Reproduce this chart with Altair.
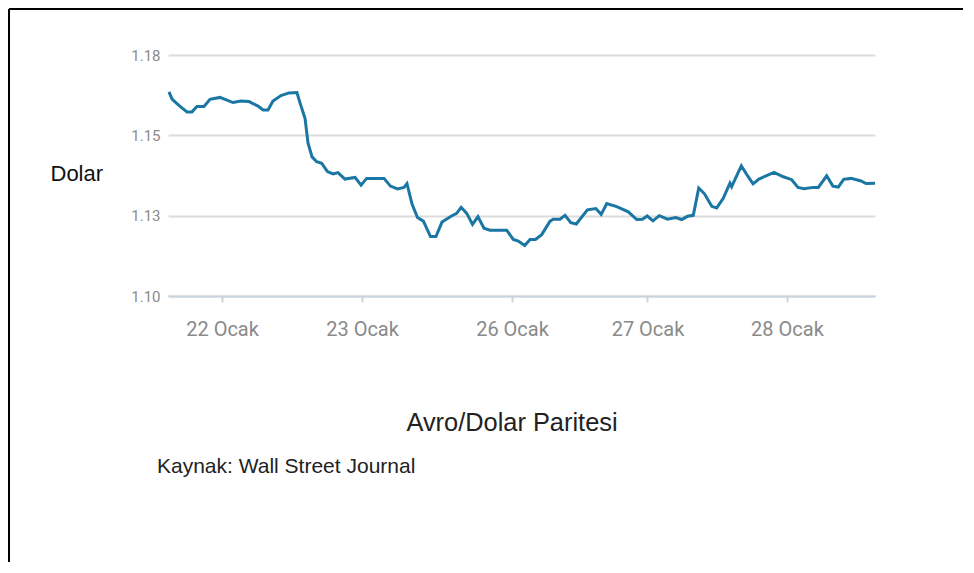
import altair as alt
import pandas as pd

# ---- data ----
# x position in trading-day units, 0 = left edge of the plot
day_pos = [0.007, 0.029, 0.05, 0.086, 0.136, 0.171, 0.207, 0.257, 0.3, 0.371,
           0.464, 0.521, 0.579, 0.643, 0.679, 0.714, 0.75, 0.807, 0.864, 0.921,
           0.943, 0.979, 1.0, 1.029, 1.062, 1.098, 1.139, 1.179, 1.214, 1.264,
           1.336, 1.379, 1.419, 1.543, 1.589, 1.639, 1.686, 1.707, 1.743, 1.782,
           1.824, 1.875, 1.914, 1.957, 2.025, 2.062, 2.094, 2.134, 2.175, 2.214,
           2.257, 2.3, 2.419, 2.466, 2.502, 2.548, 2.586, 2.625, 2.669, 2.729,
           2.752, 2.8, 2.836, 2.877, 2.916, 2.996, 3.056, 3.094, 3.134, 3.205,
           3.288, 3.348, 3.389, 3.423, 3.464, 3.509, 3.568, 3.627, 3.669, 3.711,
           3.752, 3.791, 3.832, 3.884, 3.919, 3.966, 4.014, 4.026, 4.095, 4.143,
           4.179, 4.221, 4.329, 4.395, 4.455, 4.5, 4.543, 4.609, 4.645, 4.705,
           4.749, 4.788, 4.826, 4.879, 4.95, 4.986, 5.05]
eur_usd = [1.1635, 1.1613, 1.1604, 1.1590, 1.1573, 1.1573, 1.1590, 1.1590, 1.1612, 1.1618,
           1.1602, 1.1607, 1.1605, 1.1591, 1.1579, 1.1579, 1.1607, 1.1624, 1.1632, 1.1633,
           1.1601, 1.1552, 1.1476, 1.1433, 1.1418, 1.1413, 1.1387, 1.1380, 1.1384, 1.1364,
           1.1369, 1.1345, 1.1366, 1.1366, 1.1342, 1.1333, 1.1338, 1.1350, 1.1286, 1.1244,
           1.1233, 1.1185, 1.1185, 1.1230, 1.1249, 1.1257, 1.1276, 1.1257, 1.1223, 1.1247,
           1.1211, 1.1205, 1.1205, 1.1176, 1.1171, 1.1157, 1.1176, 1.1176, 1.1191, 1.1233,
           1.1239, 1.1239, 1.1251, 1.1228, 1.1224, 1.1268, 1.1272, 1.1254, 1.1288, 1.1278,
           1.1262, 1.1238, 1.1239, 1.1249, 1.1234, 1.1250, 1.1239, 1.1244, 1.1238, 1.1248,
           1.1251, 1.1336, 1.1318, 1.1279, 1.1274, 1.1304, 1.1351, 1.1340, 1.1405, 1.1372,
           1.1349, 1.1364, 1.1385, 1.1371, 1.1362, 1.1338, 1.1334, 1.1338, 1.1338, 1.1374,
           1.1342, 1.1339, 1.1363, 1.1366, 1.1358, 1.1350, 1.1351]

x_tick_values = [0.386, 1.386, 2.457, 3.425, 4.421]
x_tick_labels = ["22 Ocak", "23 Ocak", "26 Ocak", "27 Ocak", "28 Ocak"]
y_tick_values = [1.10, 1.125, 1.15, 1.175]
y_tick_labels = ["1.10", "1.13", "1.15", "1.18"]

y_title = "Dolar"
chart_title = "Avro/Dolar Paritesi"
source_note = "Kaynak: Wall Street Journal"

df = pd.DataFrame({"t": day_pos, "v": eur_usd})


def label_expr(values, labels):
    return ("[" + ",".join("'%s'" % s for s in labels) + "][indexof(["
            + ",".join(repr(v) for v in values) + "], datum.value)]")


axis_color = "#c9d4df"
label_gray = "#8a8a8a"

line = alt.Chart(df).mark_line(color="#1a76a3", strokeWidth=3).encode(
    x=alt.X("t:Q",
            scale=alt.Scale(domain=[0, 5.05], nice=False, zero=False),
            axis=alt.Axis(values=x_tick_values,
                          labelExpr=label_expr(x_tick_values, x_tick_labels),
                          grid=False, domainColor=axis_color, domainWidth=2,
                          tickColor=axis_color, tickWidth=2, tickSize=6,
                          labelFont="Roboto", labelFontSize=20, labelColor=label_gray,
                          labelPadding=17, title=None)),
    y=alt.Y("v:Q",
            scale=alt.Scale(domain=[1.10, 1.175], nice=False, zero=False),
            axis=alt.Axis(values=y_tick_values,
                          labelExpr=label_expr(y_tick_values, y_tick_labels),
                          grid=True, gridColor="#dcdcdc", gridWidth=2,
                          domain=False, ticks=False,
                          labelFont="Roboto", labelFontSize=15, labelColor=label_gray,
                          labelPadding=8,
                          title=y_title, titleAngle=0, titleAlign="left",
                          titleBaseline="middle", titleX=-118, titleY=118,
                          titleFont="Liberation Sans", titleFontSize=22,
                          titleFontWeight="normal", titleColor="#111111")),
)

title = alt.Chart(pd.DataFrame({"label": [chart_title]})).mark_text(
    font="Liberation Sans", fontSize=25.4, color="#222222", align="center", baseline="middle"
).encode(text="label:N", x=alt.value(344), y=alt.value(368))

note = alt.Chart(pd.DataFrame({"label": [source_note]})).mark_text(
    font="Liberation Sans", fontSize=21, color="#222222", align="left", baseline="middle"
).encode(text="label:N", x=alt.value(-11), y=alt.value(412))

frame_df = pd.DataFrame({"k": [0]})
left_border = alt.Chart(frame_df).mark_rule(color="black", strokeWidth=2).encode(
    x=alt.value(-159), y=alt.value(-46), y2=alt.value(507))
top_border = alt.Chart(frame_df).mark_rule(color="black", strokeWidth=2).encode(
    x=alt.value(-159), x2=alt.value(795), y=alt.value(-46))

chart = alt.layer(line, title, note, left_border, top_border).properties(
    width=707, height=241,
    autosize=alt.AutoSizeParams(type="none"),
    padding={"left": 160, "top": 47, "right": 88, "bottom": 266},
    background="white",
).configure_view(stroke=None)

chart.save("out.html", embed_options={"renderer": "svg", "actions": False})
